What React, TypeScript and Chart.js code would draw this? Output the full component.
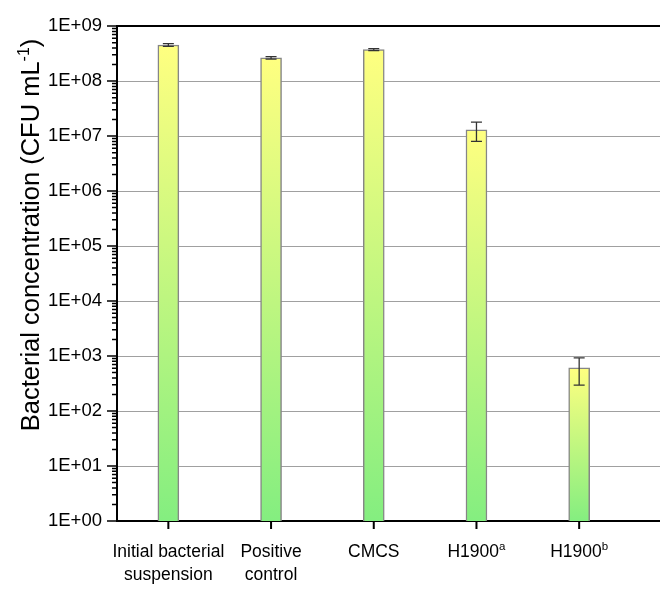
import React, { useEffect, useRef } from "react";
import { Chart, registerables } from "chart.js";

Chart.register(...registerables);

// ---- data ----
const categoryLines: string[][] = [
  ["Initial bacterial", "suspension"],
  ["Positive", "control"],
  ["CMCS"],
  ["H1900"],
  ["H1900"],
];
const categorySup: string[] = ["", "", "", "a", "b"];
const values: number[] = [4.54e8, 2.64e8, 3.73e8, 1.3e7, 610];
const errors: number[] = [2.5e7, 1.4e7, 1.5e7, 5e6, 315];
const yExponents: number[] = [0, 1, 2, 3, 4, 5, 6, 7, 8, 9];
const yTitleMain = "Bacterial concentration (CFU mL";
const yTitleSup = "-1";
const yTitleEnd = ")";

const FONT = "'Liberation Sans', Arial, Helvetica, sans-serif";
const TOP_COLOR = "#ffff80";
const BOTTOM_COLOR = "#84ee80";

const isMajor = (v: number) => {
  const e = Math.round(Math.log10(v));
  return Math.abs(v - Math.pow(10, e)) < 1e-9 * Math.pow(10, e);
};

const errorBarPlugin = {
  id: "errorBars",
  afterDatasetsDraw(chart: any) {
    const { ctx, scales } = chart;
    const x = scales.x;
    const y = scales.y;
    ctx.save();
    ctx.strokeStyle = "#333";
    ctx.lineWidth = 1.3;
    values.forEach((v, i) => {
      const px = x.getPixelForValue(i);
      const top = y.getPixelForValue(v + errors[i]);
      const bot = y.getPixelForValue(v - errors[i]);
      ctx.beginPath();
      ctx.moveTo(px, top);
      ctx.lineTo(px, bot);
      ctx.moveTo(px - 5.5, top);
      ctx.lineTo(px + 5.5, top);
      ctx.moveTo(px - 5.5, bot);
      ctx.lineTo(px + 5.5, bot);
      ctx.stroke();
    });
    ctx.restore();
  },
};

const decorPlugin = {
  id: "decor",
  afterDraw(chart: any) {
    const { ctx, chartArea, scales } = chart;
    const x = scales.x;
    const y = scales.y;
    ctx.save();
    // top border
    ctx.strokeStyle = "#000";
    ctx.lineWidth = 2;
    ctx.beginPath();
    ctx.moveTo(chartArea.left - 1, chartArea.top);
    ctx.lineTo(chartArea.right, chartArea.top);
    ctx.stroke();

    // y ticks (major and minor)
    ctx.lineWidth = 1.5;
    ctx.beginPath();
    yExponents.forEach((e) => {
      const base = Math.pow(10, e);
      const py = y.getPixelForValue(base);
      ctx.moveTo(chartArea.left - 10, py);
      ctx.lineTo(chartArea.left, py);
      if (e < yExponents[yExponents.length - 1]) {
        for (let k = 2; k <= 9; k++) {
          const pm = y.getPixelForValue(k * base);
          ctx.moveTo(chartArea.left - 5, pm);
          ctx.lineTo(chartArea.left, pm);
        }
      }
    });
    ctx.stroke();

    // x ticks
    ctx.lineWidth = 2;
    ctx.beginPath();
    categoryLines.forEach((_, i) => {
      const px = x.getPixelForValue(i);
      ctx.moveTo(px, chartArea.bottom);
      ctx.lineTo(px, chartArea.bottom + 8);
    });
    ctx.stroke();

    // x labels
    ctx.fillStyle = "#000";
    ctx.textBaseline = "alphabetic";
    categoryLines.forEach((lines, i) => {
      const px = x.getPixelForValue(i);
      lines.forEach((line, li) => {
        const by = chartArea.bottom + 36 + li * 22.5;
        ctx.font = `17.5px ${FONT}`;
        const w = ctx.measureText(line).width;
        const sup = li === 0 ? categorySup[i] : "";
        ctx.font = `11.5px ${FONT}`;
        const ws = sup ? ctx.measureText(sup).width : 0;
        const sx = px - (w + ws) / 2;
        ctx.textAlign = "left";
        ctx.font = `17.5px ${FONT}`;
        ctx.fillText(line, sx, by);
        if (sup) {
          ctx.font = `11.5px ${FONT}`;
          ctx.fillText(sup, sx + w, by - 7);
        }
      });
    });

    // y title
    ctx.translate(39, 235);
    ctx.rotate(-Math.PI / 2);
    ctx.textAlign = "left";
    ctx.font = `25.5px ${FONT}`;
    const w1 = ctx.measureText(yTitleMain).width;
    const w3 = ctx.measureText(yTitleEnd).width;
    ctx.font = `16px ${FONT}`;
    const w2 = ctx.measureText(yTitleSup).width;
    let sx = -(w1 + w2 + w3) / 2;
    ctx.font = `25.5px ${FONT}`;
    ctx.fillText(yTitleMain, sx, 0);
    sx += w1;
    ctx.font = `16px ${FONT}`;
    ctx.fillText(yTitleSup, sx, -10.5);
    sx += w2;
    ctx.font = `25.5px ${FONT}`;
    ctx.fillText(yTitleEnd, sx, 0);
    ctx.restore();
  },
};

export default function App() {
  const ref = useRef<HTMLCanvasElement | null>(null);

  useEffect(() => {
    if (!ref.current) return;
    const chart = new Chart(ref.current, {
      type: "bar",
      data: {
        datasets: [
          {
            data: values.map((v, i) => ({ x: i, y: v })),
            backgroundColor: (c: any) => {
              const ch = c.chart;
              const area = ch.chartArea;
              const i = c.dataIndex;
              if (!area || i === undefined || !ch.scales.y) return TOP_COLOR;
              const ys = ch.scales.y;
              const top = ys.getPixelForValue(values[i]);
              const bot = ys.getPixelForValue(1);
              if (!isFinite(top) || !isFinite(bot) || bot <= top) return TOP_COLOR;
              const g = ch.ctx.createLinearGradient(0, top, 0, bot);
              g.addColorStop(0, TOP_COLOR);
              g.addColorStop(1, BOTTOM_COLOR);
              return g;
            },
            borderColor: "#868686",
            borderWidth: 1.5,
            barThickness: 21,
          } as any,
        ],
      },
      options: {
        animation: false,
        responsive: false,
        maintainAspectRatio: false,
        layout: { padding: { top: 23, left: 0, right: 0, bottom: 0 } },
        plugins: {
          legend: { display: false },
          tooltip: { enabled: false },
        },
        scales: {
          x: {
            type: "linear",
            min: -0.5,
            max: 4.787,
            offset: false,
            z: 1,
            grid: { display: false, drawTicks: false },
            border: { display: true, color: "#000", width: 2 },
            ticks: { display: false },
            afterFit: (s: any) => {
              s.height = 71;
            },
          },
          y: {
            type: "logarithmic",
            min: 1,
            max: 1e9,
            z: 1,
            afterBuildTicks: (s: any) => {
              const t: any[] = [];
              yExponents.forEach((e) => {
                t.push({ value: Math.pow(10, e) });
              });
              s.ticks = t;
            },
            ticks: {
              autoSkip: false,
              padding: 15,
              color: "#000",
              font: { family: FONT, size: 18.5 },
              callback: (v: any) => {
                const n = Number(v);
                if (!isMajor(n)) return "";
                const e = Math.round(Math.log10(n));
                return `1E+${e < 10 ? "0" + e : e}`;
              },
            },
            grid: {
              drawTicks: false,
              lineWidth: 1,
              color: (c: any) => {
                const v = c.tick ? c.tick.value : 0;
                return v > 1 && v < 1e9 ? "#a0a0a0" : "rgba(0,0,0,0)";
              },
            },
            border: { display: true, color: "#000", width: 2 },
            afterFit: (s: any) => {
              s.width = 117;
            },
          },
        },
      } as any,
      plugins: [errorBarPlugin, decorPlugin],
    });
    return () => chart.destroy();
  }, []);

  return (
    <div
      style={{
        position: "absolute",
        left: 0,
        top: 0,
        width: 660,
        height: 592,
        background: "#fff",
      }}
    >
      <canvas ref={ref} width={660} height={592} style={{ display: "block" }} />
    </div>
  );
}
